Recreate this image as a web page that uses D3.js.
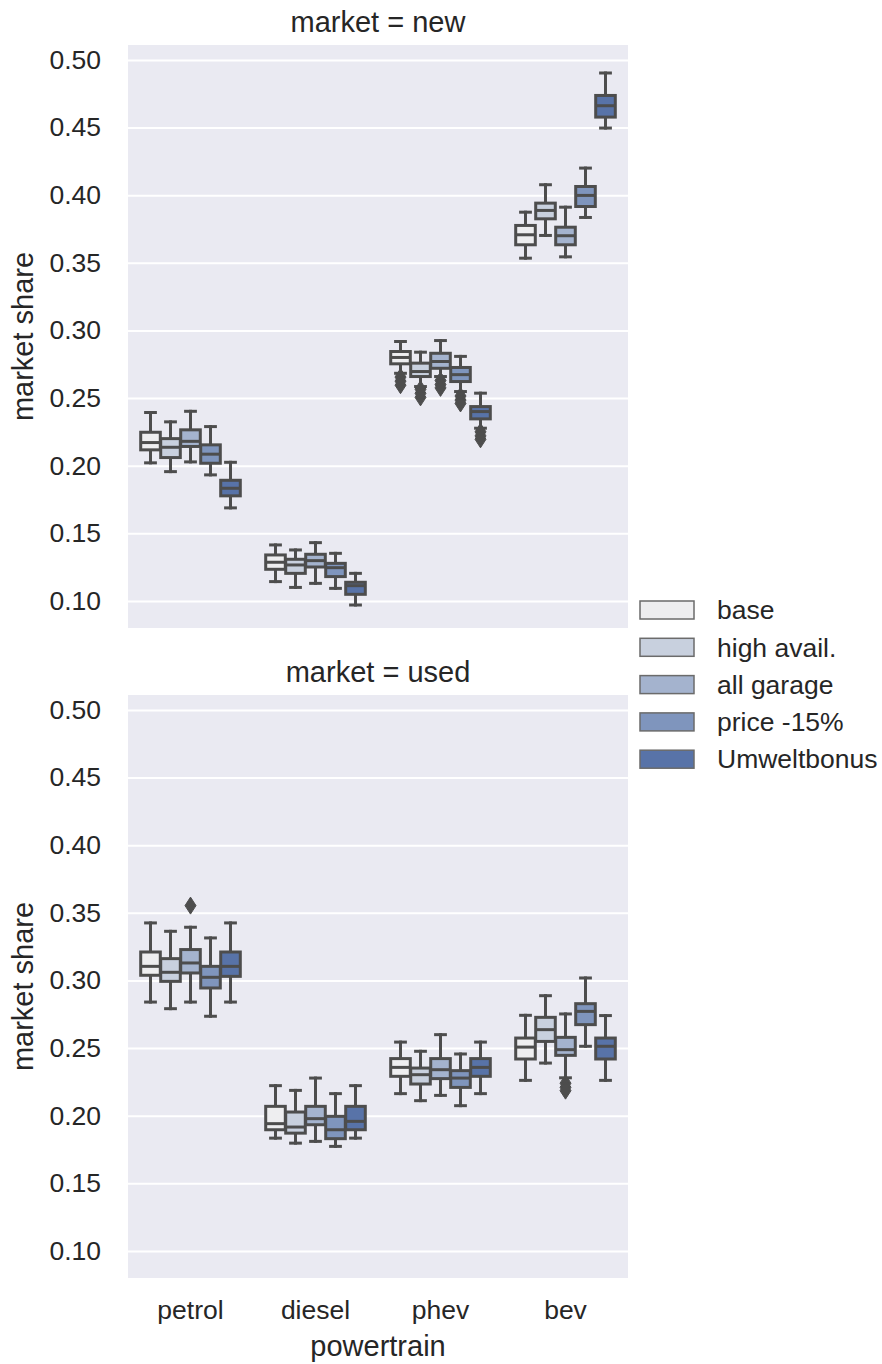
<!DOCTYPE html>
<html>
<head>
<meta charset="utf-8">
<script src="https://cdn.jsdelivr.net/npm/d3@7"></script>
<style>
  body { margin: 0; background: #fff; }
  text { font-family: "Liberation Sans", Arial, sans-serif; fill: #262626; }
</style>
</head>
<body>
<div id="chart"></div>
<script>
const powertrains = ['petrol', 'diesel', 'phev', 'bev'];
const scenarios = ['base', 'high avail.', 'all garage', 'price -15%', 'Umweltbonus'];
const scenarioColors = ['#eeeef0', '#c8d0de', '#a4b3ce', '#7f95bd', '#5873a8'];
const yTicks = [0.10, 0.15, 0.20, 0.25, 0.30, 0.35, 0.40, 0.45, 0.50];

// each entry: [low whisker, q1, median, q3, high whisker], one per powertrain
const newBase = [[0.2021, 0.2117, 0.2171, 0.2247, 0.2393], [0.1143, 0.1234, 0.1286, 0.1340, 0.1414], [0.2683, 0.2753, 0.2800, 0.2844, 0.2918], [0.3534, 0.3633, 0.3707, 0.3776, 0.3874]];
const newHigh = [[0.1956, 0.2060, 0.2136, 0.2200, 0.2324], [0.1100, 0.1204, 0.1266, 0.1308, 0.1377], [0.2585, 0.2659, 0.2696, 0.2758, 0.2839], [0.3702, 0.3825, 0.3887, 0.3941, 0.4077]];
const newGarage = [[0.2028, 0.2142, 0.2180, 0.2265, 0.2402], [0.1130, 0.1251, 0.1298, 0.1345, 0.1431], [0.2659, 0.2720, 0.2770, 0.2831, 0.2925], [0.3544, 0.3633, 0.3700, 0.3763, 0.3911]];
const newPrice = [[0.1932, 0.2018, 0.2085, 0.2154, 0.2289], [0.1093, 0.1180, 0.1246, 0.1278, 0.1352], [0.2548, 0.2622, 0.2673, 0.2726, 0.2808], [0.3835, 0.3916, 0.3998, 0.4064, 0.4200]];
const newBonus = [[0.1688, 0.1777, 0.1833, 0.1892, 0.2025], [0.0970, 0.1049, 0.1113, 0.1138, 0.1204], [0.2277, 0.2346, 0.2400, 0.2437, 0.2536], [0.4496, 0.4577, 0.4661, 0.4737, 0.4903]];

const usedBase = [[0.2840, 0.3038, 0.3104, 0.3210, 0.3425], [0.1834, 0.1896, 0.1941, 0.2069, 0.2222], [0.2163, 0.2291, 0.2357, 0.2422, 0.2544], [0.2261, 0.2419, 0.2507, 0.2574, 0.2742]];
const usedHigh = [[0.2791, 0.2993, 0.3060, 0.3161, 0.3363], [0.1797, 0.1871, 0.1916, 0.2027, 0.2187], [0.2111, 0.2234, 0.2303, 0.2352, 0.2476], [0.2389, 0.2549, 0.2636, 0.2727, 0.2887]];
const usedGarage = [[0.2840, 0.3055, 0.3129, 0.3228, 0.3393], [0.1810, 0.1933, 0.1978, 0.2069, 0.2278], [0.2150, 0.2274, 0.2340, 0.2422, 0.2599], [0.2280, 0.2446, 0.2488, 0.2579, 0.2752]];
const usedPrice = [[0.2735, 0.2944, 0.3023, 0.3104, 0.3314], [0.1773, 0.1830, 0.1896, 0.1995, 0.2163], [0.2074, 0.2209, 0.2278, 0.2333, 0.2456], [0.2513, 0.2673, 0.2771, 0.2828, 0.3018]];
const usedBonus = [[0.2840, 0.3030, 0.3104, 0.3210, 0.3425], [0.1834, 0.1896, 0.1958, 0.2069, 0.2222], [0.2163, 0.2291, 0.2357, 0.2422, 0.2544], [0.2261, 0.2419, 0.2513, 0.2574, 0.2740]];

// outliers: [market, powertrain, scenario, value]
const outliers = [
  ['new', 'phev', 'base', 0.2655], ['new', 'phev', 'base', 0.2625], ['new', 'phev', 'base', 0.2595],
  ['new', 'phev', 'high avail.', 0.2565], ['new', 'phev', 'high avail.', 0.2535], ['new', 'phev', 'high avail.', 0.2505],
  ['new', 'phev', 'all garage', 0.2630], ['new', 'phev', 'all garage', 0.2600], ['new', 'phev', 'all garage', 0.2575],
  ['new', 'phev', 'price -15%', 0.2515], ['new', 'phev', 'price -15%', 0.2485], ['new', 'phev', 'price -15%', 0.2460],
  ['new', 'phev', 'Umweltbonus', 0.2250], ['new', 'phev', 'Umweltbonus', 0.2220], ['new', 'phev', 'Umweltbonus', 0.2195],
  ['used', 'petrol', 'all garage', 0.3553],
  ['used', 'bev', 'all garage', 0.2240], ['used', 'bev', 'all garage', 0.2210], ['used', 'bev', 'all garage', 0.2185]
];

const panels = [
  { market: 'new', top: 45, series: [newBase, newHigh, newGarage, newPrice, newBonus] },
  { market: 'used', top: 695, series: [usedBase, usedHigh, usedGarage, usedPrice, usedBonus] }
];

const width = 882, height = 1364;
const left = 128, right = 628, panelH = 583;
const lineColor = '#4d4d4d';

const svg = d3.select('#chart').append('svg')
  .attr('width', width)
  .attr('height', height);

const x = d3.scaleBand().domain(powertrains).range([left, right]);
const hue = d3.scaleBand().domain(scenarios)
  .range([x.bandwidth() * 0.1, x.bandwidth() * 0.9]);
const boxW = hue.bandwidth() * 0.98;

panels.forEach(function(p) {
  const y = d3.scaleLinear().domain([0.08, 0.511]).range([p.top + panelH, p.top]);
  const g = svg.append('g');

  g.append('rect')
    .attr('x', left).attr('y', p.top)
    .attr('width', right - left).attr('height', panelH)
    .attr('fill', '#eaeaf2');

  const yAxis = g.append('g')
    .attr('transform', 'translate(' + left + ',0)')
    .call(d3.axisLeft(y).tickValues(yTicks).tickFormat(d3.format('.2f'))
      .tickSize(-(right - left)).tickPadding(27));
  yAxis.select('.domain').remove();
  yAxis.selectAll('line').attr('stroke', '#fff').attr('stroke-width', 2);
  yAxis.selectAll('text')
    .attr('font-size', 26.5).attr('fill', '#262626')
    .attr('font-family', '"Liberation Sans", Arial, sans-serif');

  g.append('text')
    .attr('x', (left + right) / 2).attr('y', p.top - 13)
    .attr('text-anchor', 'middle').attr('font-size', 29)
    .text('market = ' + p.market);

  g.append('text')
    .attr('transform', 'translate(33,' + (p.top + panelH / 2) + ') rotate(-90)')
    .attr('text-anchor', 'middle').attr('font-size', 29)
    .text('market share');

  p.series.forEach(function(stats, si) {
    const s = scenarios[si];
    stats.forEach(function(d, pi) {
      const cx = x(powertrains[pi]) + hue(s) + hue.bandwidth() / 2;
      const b = g.append('g')
        .attr('stroke', lineColor).attr('stroke-width', 3)
        .attr('stroke-linecap', 'square');
      // whiskers
      b.append('line').attr('x1', cx).attr('x2', cx).attr('y1', y(d[1])).attr('y2', y(d[0]));
      b.append('line').attr('x1', cx).attr('x2', cx).attr('y1', y(d[3])).attr('y2', y(d[4]));
      // caps
      b.append('line').attr('x1', cx - boxW / 4).attr('x2', cx + boxW / 4).attr('y1', y(d[0])).attr('y2', y(d[0]));
      b.append('line').attr('x1', cx - boxW / 4).attr('x2', cx + boxW / 4).attr('y1', y(d[4])).attr('y2', y(d[4]));
      // box
      b.append('rect')
        .attr('x', cx - boxW / 2).attr('y', y(d[3]))
        .attr('width', boxW).attr('height', y(d[1]) - y(d[3]))
        .attr('fill', scenarioColors[si]);
      // median
      b.append('line').attr('x1', cx - boxW / 2).attr('x2', cx + boxW / 2)
        .attr('y1', y(d[2])).attr('y2', y(d[2])).attr('stroke-linecap', 'butt');
    });
  });

  g.selectAll('path.flier')
    .data(outliers.filter(o => o[0] === p.market))
    .enter().append('path')
    .attr('class', 'flier')
    .attr('d', 'M0,-8.5L5.5,0L0,8.5L-5.5,0Z')
    .attr('fill', lineColor).attr('stroke', lineColor).attr('stroke-width', 1)
    .attr('transform', function(o) {
      const cx = x(o[1]) + hue(o[2]) + hue.bandwidth() / 2;
      return 'translate(' + cx + ',' + y(o[3]) + ')';
    });
});

// x axis on bottom panel
const xAxis = svg.append('g')
  .attr('transform', 'translate(0,' + (695 + panelH) + ')')
  .call(d3.axisBottom(x).tickSize(0).tickPadding(22));
xAxis.select('.domain').remove();
xAxis.selectAll('text')
  .attr('font-size', 26.5).attr('fill', '#262626')
  .attr('font-family', '"Liberation Sans", Arial, sans-serif');

svg.append('text')
  .attr('x', (left + right) / 2).attr('y', 1356)
  .attr('text-anchor', 'middle').attr('font-size', 29)
  .text('powertrain');

// legend
const legend = svg.append('g').attr('transform', 'translate(640,610)');
const item = legend.selectAll('g')
  .data(scenarios)
  .enter().append('g')
  .attr('transform', (d, i) => 'translate(0,' + i * 37.3 + ')');
item.append('rect')
  .attr('x', 0).attr('y', -9)
  .attr('width', 54).attr('height', 18)
  .attr('fill', (d, i) => scenarioColors[i])
  .attr('stroke', '#6b6b6b').attr('stroke-width', 1.5);
item.append('text')
  .attr('x', 77).attr('dy', '0.35em')
  .attr('font-size', 26.5)
  .text(d => d);
</script>
</body>
</html>
